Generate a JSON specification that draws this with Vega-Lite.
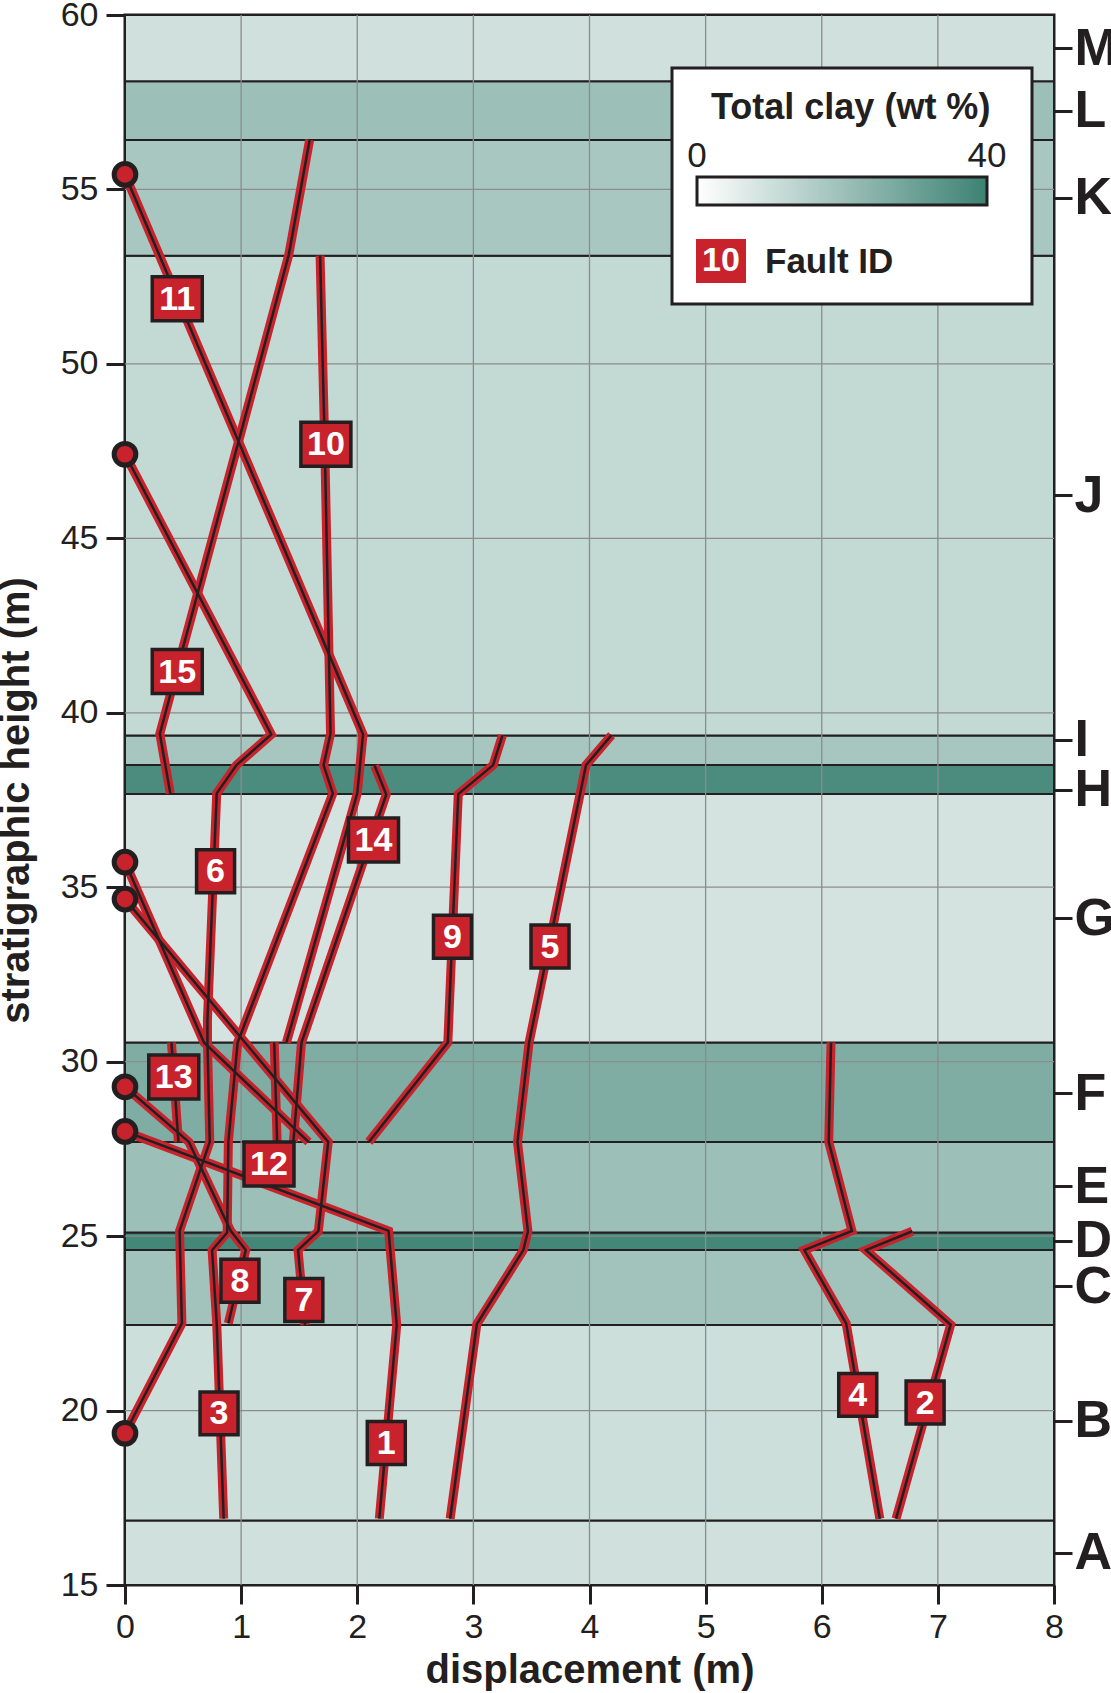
{
  "$schema": "https://vega.github.io/schema/vega-lite/v6.json",
  "width": 929,
  "height": 1570,
  "autosize": {"type": "none"},
  "padding": {"left": 125, "top": 15, "right": 57, "bottom": 108},
  "background": "white",
  "config": {
    "font": "Liberation Sans",
    "view": {"stroke": "#231f20", "strokeWidth": 3},
    "axis": {"domain": false, "grid": false, "tickColor": "#231f20", "tickWidth": 3, "labelColor": "#231f20", "titleColor": "#231f20", "labelFont": "Liberation Sans", "titleFont": "Liberation Sans", "labelFlush": false, "labelOverlap": false}
  },
  "datasets": {
    "units": [
      {"unit": "A", "bottom": 15, "top": 16.85, "clay": 9.8},
      {"unit": "B", "bottom": 16.85, "top": 22.45, "clay": 10.4},
      {"unit": "C", "bottom": 22.45, "top": 24.6, "clay": 19.3},
      {"unit": "D", "bottom": 24.6, "top": 25.1, "clay": 38.5},
      {"unit": "E", "bottom": 25.1, "top": 27.7, "clay": 20.4},
      {"unit": "F", "bottom": 27.7, "top": 30.55, "clay": 26.2},
      {"unit": "G", "bottom": 30.55, "top": 37.67, "clay": 8.9},
      {"unit": "H", "bottom": 37.67, "top": 38.5, "clay": 36.8},
      {"unit": "I", "bottom": 38.5, "top": 39.35, "clay": 18.2},
      {"unit": "J", "bottom": 39.35, "top": 53.1, "clay": 12.3},
      {"unit": "K", "bottom": 53.1, "top": 56.42, "clay": 17.8},
      {"unit": "L", "bottom": 56.42, "top": 58.1, "clay": 20.4},
      {"unit": "M", "bottom": 58.1, "top": 60, "clay": 9.8}
    ],
    "gridx": [{"gx": 1}, {"gx": 2}, {"gx": 3}, {"gx": 4}, {"gx": 5}, {"gx": 6}, {"gx": 7}],
    "gridy": [{"gy": 20}, {"gy": 25}, {"gy": 30}, {"gy": 35}, {"gy": 40}, {"gy": 45}, {"gy": 50}, {"gy": 55}],
    "faults": [
      {"fault": 1, "seq": 1, "d": 2.19, "h": 16.9},
      {"fault": 1, "seq": 2, "d": 2.34, "h": 22.45},
      {"fault": 1, "seq": 3, "d": 2.27, "h": 25.15},
      {"fault": 1, "seq": 4, "d": 0, "h": 28.0},
      {"fault": 2, "seq": 1, "d": 6.64, "h": 16.9},
      {"fault": 2, "seq": 2, "d": 7.11, "h": 22.46},
      {"fault": 2, "seq": 3, "d": 6.38, "h": 24.6},
      {"fault": 2, "seq": 4, "d": 6.78, "h": 25.14},
      {"fault": 3, "seq": 1, "d": 0, "h": 35.72},
      {"fault": 3, "seq": 2, "d": 0.68, "h": 30.55},
      {"fault": 3, "seq": 3, "d": 1.58, "h": 27.7},
      {"fault": 4, "seq": 1, "d": 6.5, "h": 16.9},
      {"fault": 4, "seq": 2, "d": 6.21, "h": 22.5},
      {"fault": 4, "seq": 3, "d": 5.85, "h": 24.6},
      {"fault": 4, "seq": 4, "d": 6.26, "h": 25.15},
      {"fault": 4, "seq": 5, "d": 6.06, "h": 27.7},
      {"fault": 4, "seq": 6, "d": 6.08, "h": 30.55},
      {"fault": 5, "seq": 1, "d": 2.8, "h": 16.9},
      {"fault": 5, "seq": 2, "d": 3.03, "h": 22.48},
      {"fault": 5, "seq": 3, "d": 3.43, "h": 24.6},
      {"fault": 5, "seq": 4, "d": 3.47, "h": 25.14},
      {"fault": 5, "seq": 5, "d": 3.38, "h": 27.7},
      {"fault": 5, "seq": 6, "d": 3.48, "h": 30.55},
      {"fault": 5, "seq": 7, "d": 3.97, "h": 38.5},
      {"fault": 5, "seq": 8, "d": 4.19, "h": 39.36},
      {"fault": 6, "seq": 1, "d": 0, "h": 47.41},
      {"fault": 6, "seq": 2, "d": 1.26, "h": 39.38},
      {"fault": 6, "seq": 3, "d": 0.96, "h": 38.5},
      {"fault": 6, "seq": 4, "d": 0.79, "h": 37.69},
      {"fault": 6, "seq": 5, "d": 0.71, "h": 31.2},
      {"fault": 6, "seq": 6, "d": 0.71, "h": 30.55},
      {"fault": 6, "seq": 7, "d": 0.73, "h": 27.7},
      {"fault": 6, "seq": 8, "d": 0.47, "h": 25.15},
      {"fault": 6, "seq": 9, "d": 0.49, "h": 22.5},
      {"fault": 6, "seq": 10, "d": 0, "h": 19.35},
      {"fault": 7, "seq": 1, "d": 0, "h": 34.66},
      {"fault": 7, "seq": 2, "d": 1.75, "h": 27.7},
      {"fault": 7, "seq": 3, "d": 1.665, "h": 25.14},
      {"fault": 7, "seq": 4, "d": 1.49, "h": 24.6},
      {"fault": 7, "seq": 5, "d": 1.55, "h": 22.45},
      {"fault": 8, "seq": 1, "d": 0, "h": 29.28},
      {"fault": 8, "seq": 2, "d": 0.55, "h": 27.7},
      {"fault": 8, "seq": 3, "d": 0.91, "h": 25.15},
      {"fault": 8, "seq": 4, "d": 1.04, "h": 24.6},
      {"fault": 8, "seq": 5, "d": 0.89, "h": 22.5},
      {"fault": 9, "seq": 1, "d": 3.25, "h": 39.35},
      {"fault": 9, "seq": 2, "d": 3.17, "h": 38.5},
      {"fault": 9, "seq": 3, "d": 2.87, "h": 37.67},
      {"fault": 9, "seq": 4, "d": 2.78, "h": 30.55},
      {"fault": 9, "seq": 5, "d": 2.1, "h": 27.7},
      {"fault": 10, "seq": 1, "d": 1.68, "h": 53.1},
      {"fault": 10, "seq": 2, "d": 1.72, "h": 47.7},
      {"fault": 10, "seq": 3, "d": 1.77, "h": 39.4},
      {"fault": 10, "seq": 4, "d": 1.71, "h": 38.5},
      {"fault": 10, "seq": 5, "d": 1.79, "h": 37.69},
      {"fault": 10, "seq": 6, "d": 0.97, "h": 30.55},
      {"fault": 10, "seq": 7, "d": 0.89, "h": 27.7},
      {"fault": 10, "seq": 8, "d": 0.88, "h": 25.1},
      {"fault": 10, "seq": 9, "d": 0.75, "h": 24.6},
      {"fault": 10, "seq": 10, "d": 0.79, "h": 22.5},
      {"fault": 10, "seq": 11, "d": 0.85, "h": 16.9},
      {"fault": 11, "seq": 1, "d": 0, "h": 55.43},
      {"fault": 11, "seq": 2, "d": 2.05, "h": 39.38},
      {"fault": 11, "seq": 3, "d": 2.0, "h": 37.69},
      {"fault": 11, "seq": 4, "d": 1.39, "h": 30.55},
      {"fault": 12, "seq": 1, "d": 1.285, "h": 30.55},
      {"fault": 12, "seq": 2, "d": 1.31, "h": 27.7},
      {"fault": 13, "seq": 1, "d": 0.4, "h": 30.55},
      {"fault": 13, "seq": 2, "d": 0.46, "h": 27.7},
      {"fault": 14, "seq": 1, "d": 2.15, "h": 38.48},
      {"fault": 14, "seq": 2, "d": 2.25, "h": 37.66},
      {"fault": 14, "seq": 3, "d": 1.52, "h": 30.55},
      {"fault": 14, "seq": 4, "d": 1.45, "h": 27.7},
      {"fault": 15, "seq": 1, "d": 1.59, "h": 56.42},
      {"fault": 15, "seq": 2, "d": 1.41, "h": 53.12},
      {"fault": 15, "seq": 3, "d": 0.3, "h": 39.4},
      {"fault": 15, "seq": 4, "d": 0.39, "h": 37.69}
    ],
    "tips": [
      {"d": 0, "h": 55.43}, {"d": 0, "h": 47.41}, {"d": 0, "h": 35.72}, {"d": 0, "h": 34.66},
      {"d": 0, "h": 29.28}, {"d": 0, "h": 28.0}, {"d": 0, "h": 19.35}
    ],
    "labels": [
      {"id": 11, "d": 0.45, "h": 51.87},
      {"id": 10, "d": 1.73, "h": 47.7},
      {"id": 15, "d": 0.45, "h": 41.18},
      {"id": 6, "d": 0.78, "h": 35.46},
      {"id": 14, "d": 2.14, "h": 36.35},
      {"id": 9, "d": 2.82, "h": 33.58},
      {"id": 5, "d": 3.66, "h": 33.3},
      {"id": 13, "d": 0.42, "h": 29.56},
      {"id": 12, "d": 1.24, "h": 27.07},
      {"id": 8, "d": 0.99, "h": 23.72},
      {"id": 7, "d": 1.54, "h": 23.17},
      {"id": 3, "d": 0.81, "h": 19.92},
      {"id": 1, "d": 2.25, "h": 19.07},
      {"id": 4, "d": 6.31, "h": 20.45},
      {"id": 2, "d": 6.89, "h": 20.23}
    ]
  },
  "layer": [
    {
      "data": {"name": "units"},
      "mark": {"type": "rect", "stroke": "#231f20", "strokeWidth": 2},
      "encoding": {
        "y": {
          "field": "bottom", "type": "quantitative",
          "scale": {"domain": [15, 60], "nice": false, "zero": false},
          "axis": {
            "orient": "right", "title": null,
            "values": [15.92, 19.71, 23.57, 24.86, 26.43, 29.1, 34.11, 37.79, 39.22, 46.23, 54.76, 57.25, 59.05],
            "labelExpr": "datum.value < 17 ? 'A' : datum.value < 21 ? 'B' : datum.value < 24 ? 'C' : datum.value < 25.5 ? 'D' : datum.value < 27 ? 'E' : datum.value < 31 ? 'F' : datum.value < 36 ? 'G' : datum.value < 38.5 ? 'H' : datum.value < 40 ? 'I' : datum.value < 50 ? 'J' : datum.value < 56 ? 'K' : datum.value < 58 ? 'L' : 'M'",
            "tickSize": 18, "labelPadding": 2, "labelFontSize": 52, "labelFontWeight": "bold",
            "labelBaseline": "middle", "labelAlign": "left"
          }
        },
        "y2": {"field": "top"},
        "fill": {
          "field": "clay", "type": "quantitative",
          "scale": {"domain": [0, 40], "range": ["#ffffff", "#3c8273"], "interpolate": "rgb"},
          "legend": {
            "orient": "none", "legendX": 547, "legendY": 53, "direction": "horizontal",
            "title": "Total clay (wt %)", "titleFontSize": 36, "titleFontWeight": "bold", "titleColor": "#231f20",
            "titlePadding": 48, "titleLimit": 500,
            "gradientLength": 290, "gradientThickness": 28, "gradientStrokeColor": "#231f20", "gradientStrokeWidth": 3,
            "values": [0, 20, 40],
            "labelExpr": "datum.value == 20 ? ' ' : datum.label",
            "labelFontSize": 35, "labelColor": "#231f20", "labelOffset": -66, "labelOverlap": false,
            "fillColor": "white", "strokeColor": "#231f20", "padding": 25,
            "encode": {
              "legend": {"update": {"strokeWidth": {"value": 3}}},
              "title": {"update": {"dx": {"value": 14}, "dy": {"value": -2}}},
              "labels": {"update": {"align": {"value": "center"}, "dy": {"signal": "datum.value == 20 ? 105 : 0"}}}
            }
          }
        }
      }
    },
    {
      "data": {"name": "gridx"},
      "mark": {"type": "rule", "stroke": "#8c8c8c", "strokeWidth": 1.3},
      "encoding": {
        "x": {
          "field": "gx", "type": "quantitative",
          "scale": {"domain": [0, 8], "nice": false, "zero": false},
          "axis": null
        }
      }
    },
    {
      "data": {"name": "gridy"},
      "mark": {"type": "rule", "stroke": "#8c8c8c", "strokeWidth": 1.3},
      "encoding": {
        "y": {
          "field": "gy", "type": "quantitative",
          "scale": {"domain": [15, 60], "nice": false, "zero": false},
          "axis": {
            "orient": "left", "values": [15, 20, 25, 30, 35, 40, 45, 50, 55, 60],
            "title": "stratigraphic height (m)", "titleFontSize": 40, "titleFontWeight": "bold", "titlePadding": 24,
            "labelFontSize": 34, "labelPadding": 8, "tickSize": 19
          }
        }
      }
    },
    {
      "data": {"name": "faults"},
      "mark": {"type": "line", "stroke": "#c8232c", "strokeWidth": 9, "strokeJoin": "miter", "strokeMiterLimit": 10},
      "encoding": {
        "x": {
          "field": "d", "type": "quantitative",
          "scale": {"domain": [0, 8], "nice": false, "zero": false},
          "axis": {
            "orient": "bottom", "values": [0, 1, 2, 3, 4, 5, 6, 7, 8], "title": "displacement (m)",
            "titleFontSize": 40, "titleFontWeight": "bold", "titlePadding": 6,
            "labelFontSize": 34, "labelPadding": 6, "tickSize": 19, "zindex": 1
          }
        },
        "y": {"field": "h", "type": "quantitative", "axis": null},
        "detail": {"field": "fault"},
        "order": {"field": "seq"}
      }
    },
    {
      "data": {"name": "faults"},
      "mark": {"type": "line", "stroke": "#231f20", "strokeWidth": 2.5, "strokeJoin": "miter", "strokeMiterLimit": 10},
      "encoding": {
        "x": {"field": "d", "type": "quantitative", "axis": null},
        "y": {"field": "h", "type": "quantitative", "axis": null},
        "detail": {"field": "fault"},
        "order": {"field": "seq"}
      }
    },
    {
      "data": {"name": "tips"},
      "mark": {"type": "point", "shape": "circle", "filled": true, "fill": "#c8232c", "stroke": "#231f20", "strokeWidth": 5, "size": 470, "opacity": 1},
      "encoding": {
        "x": {"field": "d", "type": "quantitative", "axis": null},
        "y": {"field": "h", "type": "quantitative", "axis": null}
      }
    },
    {
      "data": {"name": "labels"},
      "transform": [{"filter": "datum.id >= 10"}],
      "mark": {"type": "point", "filled": true, "fill": "#c8232c", "stroke": "#231f20", "strokeWidth": 3.5, "size": 2500, "opacity": 1},
      "encoding": {
        "x": {"field": "d", "type": "quantitative", "axis": null},
        "y": {"field": "h", "type": "quantitative", "axis": null},
        "shape": {
          "datum": "10", "type": "nominal",
          "scale": {"range": ["M-1,-0.88H1V0.88H-1Z"]},
          "legend": {
            "orient": "none", "legendX": 569, "legendY": 219, "padding": 0,
            "title": "Fault ID", "titleOrient": "right", "titleFontSize": 35, "titleFontWeight": "bold",
            "titleColor": "#231f20", "titlePadding": 12, "titleBaseline": "middle", "titleAnchor": "middle",
            "symbolFillColor": "#c8232c", "symbolStrokeColor": "#231f20", "symbolStrokeWidth": 3.5,
            "symbolSize": 2500, "symbolOpacity": 1,
            "labelColor": "white", "labelFontSize": 34, "labelFontWeight": "bold", "labelAlign": "center",
            "labelOffset": -27, "labelBaseline": "middle"
          }
        }
      }
    },
    {
      "data": {"name": "labels"},
      "transform": [{"filter": "datum.id < 10"}],
      "mark": {"type": "point", "shape": "M-1,-1.13H1V1.13H-1Z", "filled": true, "fill": "#c8232c", "stroke": "#231f20", "strokeWidth": 3.5, "size": 1444, "opacity": 1},
      "encoding": {
        "x": {"field": "d", "type": "quantitative", "axis": null},
        "y": {"field": "h", "type": "quantitative", "axis": null}
      }
    },
    {
      "data": {"name": "labels"},
      "mark": {"type": "text", "color": "white", "fontSize": 34, "fontWeight": "bold", "font": "Liberation Sans", "align": "center", "baseline": "middle", "dy": 1},
      "encoding": {
        "x": {"field": "d", "type": "quantitative", "axis": null},
        "y": {"field": "h", "type": "quantitative", "axis": null},
        "text": {"field": "id", "type": "nominal"}
      }
    }
  ],
  "resolve": {"axis": {"x": "independent", "y": "independent"}}
}
